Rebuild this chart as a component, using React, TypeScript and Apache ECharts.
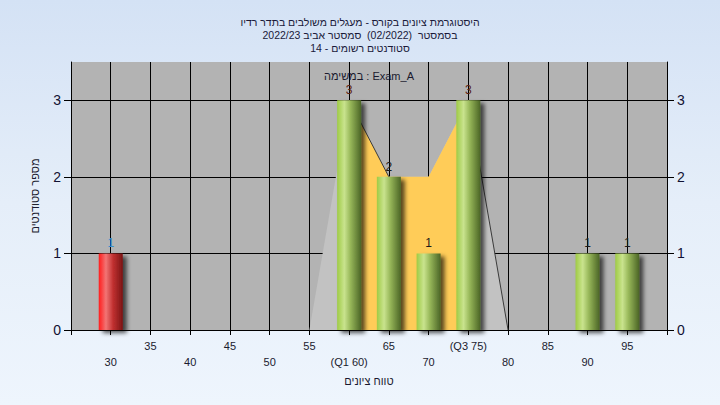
import React, { useEffect, useRef } from "react";
import * as echarts from "echarts";

const titleLines = [
  "היסטוגרמת ציונים בקורס - מעגלים משולבים בתדר רדיו",
  "בסמסטר  (02/2022)  סמסטר אביב 2022/23",
  "סטודנטים רשומים - 14",
];
const annotation = "במשימה : Exam_A";
const xAxisName = "טווח ציונים";
const yAxisName = "מספר סטודנטים";

const failBins = [30];
const failCounts = [1];
const passBins = [60, 65, 70, 75, 90, 95];
const passCounts = [3, 2, 1, 3, 1, 1];

const distX = [55, 60, 65, 70, 75, 80];
const distY = [0, 3, 2, 2, 3, 0];
const iqrX = [60, 65, 70, 75];
const iqrY = [3, 2, 2, 3];
const edgeX = [60, 65, 70, 75, 80];
const edgeY: (number | string)[] = [3, 2, "-", 3, 0];

const tickLabels: Record<number, string> = {
  30: "30", 35: "35", 40: "40", 45: "45", 50: "50", 55: "55",
  60: "(Q1 60)", 65: "65", 70: "70", 75: "(Q3 75)", 80: "80",
  85: "85", 90: "90", 95: "95",
};
const yTicks = [0, 1, 2, 3];

const FONT = "Liberation Sans, Arial, sans-serif";

const greenGrad = () =>
  new echarts.graphic.LinearGradient(0, 0, 1, 0, [
    { offset: 0, color: "#9fcb45" },
    { offset: 0.3, color: "#c9e38e" },
    { offset: 0.55, color: "#98b85a" },
    { offset: 1, color: "#4b6526" },
  ]);
const redGrad = () =>
  new echarts.graphic.LinearGradient(0, 0, 1, 0, [
    { offset: 0, color: "#ff1c1c" },
    { offset: 0.3, color: "#f27474" },
    { offset: 0.6, color: "#c03030" },
    { offset: 1, color: "#7a1515" },
  ]);

export default function App() {
  const ref = useRef<HTMLDivElement>(null);
  useEffect(() => {
    document.body.style.margin = "0";
    const chart = echarts.init(ref.current!, null, { renderer: "svg" });
    const shadow = {
      shadowColor: "rgba(0,0,0,0.65)",
      shadowBlur: 4,
      shadowOffsetX: 4,
      shadowOffsetY: 3,
    };
    const barData = [
      ...failBins.map((x, i) => ({
        value: [x, failCounts[i]],
        itemStyle: { color: redGrad(), ...shadow },
        label: { color: "#3a8ccc" },
      })),
      ...passBins.map((x, i) => ({
        value: [x, passCounts[i]],
        itemStyle: { color: greenGrad(), ...shadow },
        label: { color: passCounts[i] === 3 ? "#5a2010" : "#1a1a1a" },
      })),
    ];
    const yAxisCommon = {
      type: "value" as const,
      min: 0,
      max: 3.5,
      axisLine: { show: true, lineStyle: { color: "#000", width: 1 } },
      axisTick: { show: true, length: 7, customValues: yTicks, lineStyle: { color: "#000" } },
      axisLabel: { customValues: yTicks, margin: 10, fontSize: 14, color: "#111133", fontFamily: FONT },
    };
    chart.setOption({
      animation: false,
      textStyle: { fontFamily: FONT },
      title: {
        text: titleLines.join("\n"),
        left: "center",
        top: 10,
        textStyle: { fontSize: 10.5, fontWeight: "normal", color: "#1a1a3a", lineHeight: 13.3, fontFamily: FONT },
      },
      graphic: [
        {
          type: "text",
          x: 369,
          y: 76,
          style: {
            text: annotation,
            fill: "#1a1a2e",
            font: "11px " + FONT,
            textAlign: "center",
            textVerticalAlign: "middle",
          },
          z: 100,
        },
      ],
      grid: {
        left: 71,
        right: 53,
        top: 62,
        bottom: 75,
        show: true,
        backgroundColor: "#b3b3b3",
        borderWidth: 0,
      },
      xAxis: {
        type: "value",
        min: 25,
        max: 100,
        interval: 5,
        name: xAxisName,
        nameLocation: "middle",
        nameGap: 45,
        nameTextStyle: { fontSize: 11, color: "#1a1a2e", fontFamily: FONT },
        axisLine: { show: true, onZero: false, lineStyle: { color: "#000" } },
        axisTick: { show: true, length: 5, lineStyle: { color: "#000" } },
        splitLine: { show: true, lineStyle: { color: "#000", width: 1 } },
        axisLabel: {
          margin: 8,
          fontSize: 11,
          lineHeight: 16,
          color: "#1a1a2e",
          fontFamily: FONT,
          showMinLabel: true,
          showMaxLabel: true,
          formatter: (v: number) => {
            const t = tickLabels[v];
            if (!t) return "";
            return (v / 5) % 2 === 1 ? t : "\n" + t;
          },
        },
      },
      yAxis: [
        {
          ...yAxisCommon,
          position: "left",
          name: yAxisName,
          nameLocation: "middle",
          nameGap: 31,
          nameRotate: 90,
          nameTextStyle: { fontSize: 11, color: "#1a1a2e", fontFamily: FONT },
          splitLine: { show: true, lineStyle: { color: "#000", width: 1 } },
        },
        {
          ...yAxisCommon,
          position: "right",
          splitLine: { show: false },
        },
      ],
      series: [
        {
          type: "line",
          data: distX.map((x, i) => [x, distY[i]]),
          symbol: "none",
          lineStyle: { width: 0, opacity: 0 },
          areaStyle: { color: "#c2c2c2", opacity: 1 },
          z: 1,
        },
        {
          type: "line",
          data: iqrX.map((x, i) => [x, iqrY[i]]),
          symbol: "none",
          lineStyle: { width: 0, opacity: 0 },
          areaStyle: { color: "#ffcc58", opacity: 1 },
          z: 2,
        },
        {
          type: "line",
          data: edgeX.map((x, i) => [x, edgeY[i]]),
          symbol: "none",
          connectNulls: false,
          lineStyle: { width: 1, color: "#3a3a3a" },
          z: 3,
        },
        {
          type: "bar",
          data: barData,
          barWidth: 24,
          z: 5,
          label: {
            show: true,
            position: "top",
            distance: 4,
            fontSize: 12,
            fontFamily: FONT,
          },
        },
      ],
    });
    return () => chart.dispose();
  }, []);
  return (
    <div
      ref={ref}
      style={{
        position: "fixed",
        left: 0,
        top: 0,
        width: 720,
        height: 405,
        background: "linear-gradient(180deg, #d4e2f5 0%, #e5eef9 50%, #eef5fd 100%)",
      }}
    />
  );
}
